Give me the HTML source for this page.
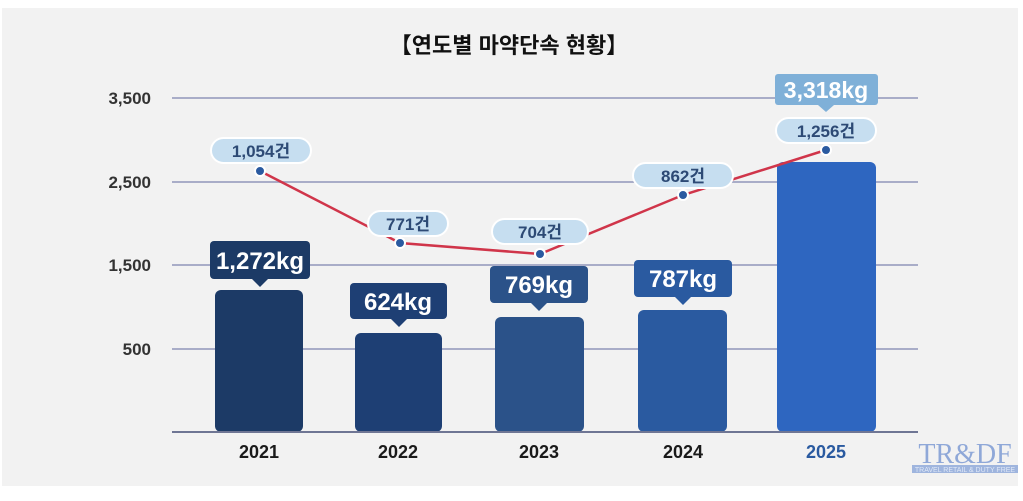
<!DOCTYPE html><html><head><meta charset="utf-8"><style>
body{margin:0;width:1023px;height:496px;background:#fff;overflow:hidden;font-family:"Liberation Sans","Noto Sans CJK KR",sans-serif}
</style></head><body>
<svg width="1023" height="496" xmlns="http://www.w3.org/2000/svg" font-family="Liberation Sans, Noto Sans CJK KR, sans-serif">
<rect x="2" y="8" width="1016" height="478" fill="#f2f2f2"/>
<text x="509" y="53" text-anchor="middle" font-size="22" font-weight="bold" fill="#111">【연도별 마약단속 현황】</text>
<g stroke="#a9adc8" stroke-width="2">
<line x1="172" y1="98" x2="918" y2="98"/><line x1="172" y1="182" x2="918" y2="182"/>
<line x1="172" y1="265" x2="918" y2="265"/><line x1="172" y1="349" x2="918" y2="349"/>
</g>
<g font-size="17" font-weight="bold" fill="#333" text-anchor="end">
<text x="151" y="104">3,500</text><text x="151" y="188">2,500</text><text x="151" y="271">1,500</text><text x="151" y="355">500</text>
</g>
<g>
<rect x="215" y="290" width="88" height="142" rx="6" fill="#1c3a66"/>
<rect x="355" y="333" width="87" height="99" rx="6" fill="#1e3f74"/>
<rect x="495" y="317" width="89" height="115" rx="6" fill="#2b5289"/>
<rect x="638" y="310" width="89" height="122" rx="6" fill="#2a5aa0"/>
<rect x="777" y="162" width="99" height="270" rx="6" fill="#2e66c0"/>
</g>
<line x1="172" y1="432" x2="918" y2="432" stroke="#6f7694" stroke-width="2"/>
<g font-size="24" font-weight="bold" fill="#fff" text-anchor="middle">
<rect x="210" y="241" width="100" height="38" rx="4" fill="#1c3a66"/><path d="M252 279 L260 287 L268 279Z" fill="#1c3a66"/><text x="260" y="269">1,272kg</text>
<rect x="350" y="283" width="97" height="36" rx="4" fill="#1e3f74"/><path d="M391 319 L399 327 L407 319Z" fill="#1e3f74"/><text x="398" y="310">624kg</text>
<rect x="490" y="266" width="98" height="37" rx="4" fill="#2b5289"/><path d="M531 303 L539 311 L547 303Z" fill="#2b5289"/><text x="539" y="293">769kg</text>
<rect x="634" y="260" width="98" height="37" rx="4" fill="#2a5aa0"/><path d="M675 297 L683 305 L691 297Z" fill="#2a5aa0"/><text x="683" y="287">787kg</text>
<rect x="775" y="74" width="103" height="31" rx="3" fill="#7fb0d8"/><path d="M818 105 L826 112 L834 105Z" fill="#7fb0d8"/><text x="826" y="98" font-size="23">3,318kg</text>
</g>
<polyline points="260,171 400,243 540,254 683,195 826,150" fill="none" stroke="#d0354a" stroke-width="2.5"/>
<g fill="#c6def0" stroke="#fff" stroke-width="2">
<rect x="211" y="138" width="100" height="25" rx="12.5"/>
<rect x="368" y="211" width="80" height="25" rx="12.5"/>
<rect x="492" y="219" width="96" height="25" rx="12.5"/>
<rect x="633" y="163" width="100" height="25" rx="12.5"/>
<rect x="776" y="118" width="100" height="25" rx="12.5"/>
</g>
<g font-size="17" font-weight="bold" fill="#2d4a75" text-anchor="middle">
<text x="261" y="157">1,054건</text><text x="408" y="230">771건</text><text x="540" y="238">704건</text><text x="683" y="182">862건</text><text x="826" y="137">1,256건</text>
</g>
<g fill="#2a5aa0" stroke="#fff" stroke-width="2">
<circle cx="260" cy="171" r="5"/><circle cx="400" cy="243" r="5"/><circle cx="540" cy="254" r="5"/><circle cx="683" cy="195" r="5"/><circle cx="826" cy="150" r="5"/>
</g>
<g font-size="18" font-weight="bold" text-anchor="middle" fill="#1a1a1a">
<text x="259" y="458">2021</text><text x="398" y="458">2022</text><text x="539" y="458">2023</text><text x="683" y="458">2024</text><text x="826" y="458" fill="#2a5aa0">2025</text>
</g>
<text x="965" y="463" text-anchor="middle" font-family="Liberation Serif, serif" font-size="28" fill="#8fa8d8">TR&amp;DF</text>
<rect x="912" y="465" width="106" height="8" fill="#9fb5de"/>
<text x="965" y="472" text-anchor="middle" font-size="7" fill="#dfe8f7">TRAVEL RETAIL &amp; DUTY FREE</text>
</svg>
</body></html>
